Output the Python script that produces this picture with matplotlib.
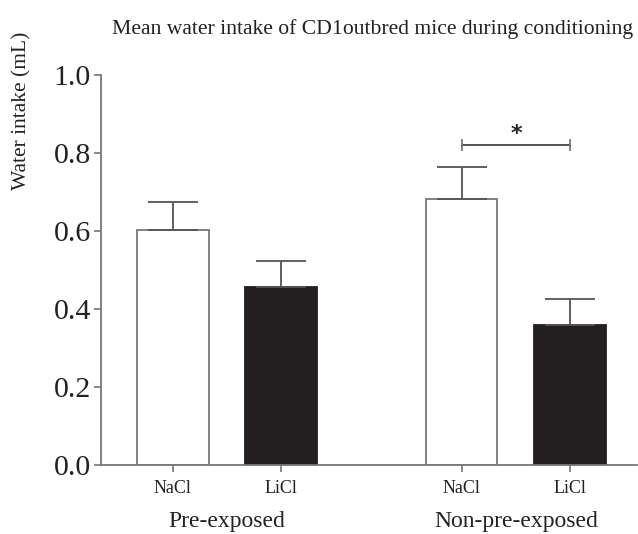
import numpy as np
import matplotlib.pyplot as plt

plt.rcParams['font.family'] = ['Liberation Serif', 'DejaVu Serif']

groups = ['Pre-exposed', 'Non-pre-exposed']
drugs = ['NaCl', 'LiCl', 'NaCl', 'LiCl']
means = [0.603, 0.456, 0.682, 0.359]
sems = [0.071, 0.066, 0.083, 0.068]
fills = ['white', '#231f20', 'white', '#231f20']
edges = ['#777777', '#231f20', '#777777', '#231f20']
sig_y = 0.821

pos = np.array([0, 1, 2.676, 3.685])
grey = '#777777'

fig = plt.figure(figsize=(6.38, 5.34), dpi=100)
ax = fig.add_axes([0.158, 0.129, 0.84, 0.7305])

ax.bar(pos, means, width=0.665, color=fills, edgecolor=edges, linewidth=1.3)
ax.errorbar(pos, means, yerr=[np.zeros(4), sems], fmt='none', ecolor='#555555',
            elinewidth=1.3, capsize=18, capthick=1.3)

# significance bracket
ax.plot([pos[2], pos[3]], [sig_y, sig_y], color='#444444', lw=1.3)
for xx in (pos[2], pos[3]):
    ax.plot([xx, xx], [sig_y - 0.012, sig_y + 0.012], color=grey, lw=1.3)
ax.text((pos[2] + pos[3]) / 2, sig_y + 0.002, '*', ha='center', va='bottom',
        fontsize=16, fontweight='bold', family='DejaVu Sans', color='#222222')

ax.set_xlim(-0.667, 4.3)
ax.set_ylim(0, 1.0)
ax.set_yticks(np.arange(0, 1.01, 0.2))
ax.set_yticklabels([f'{v:.1f}' for v in np.arange(0, 1.01, 0.2)])
ax.set_xticks(pos)
ax.set_xticklabels(drugs)

for s in ['top', 'right']:
    ax.spines[s].set_visible(False)
for s in ['left', 'bottom']:
    ax.spines[s].set_color(grey)
    ax.spines[s].set_linewidth(1.3)
ax.tick_params(axis='y', colors=grey, labelcolor='#222222', labelsize=21.5,
               length=5, width=1.2, pad=2)
ax.tick_params(axis='x', colors=grey, labelcolor='#222222', labelsize=13,
               length=5, width=1.2, pad=6)

for g, xc in zip(groups, [(pos[0] + pos[1]) / 2, (pos[2] + pos[3]) / 2]):
    ax.text(xc, -0.145, g, ha='center', va='center', fontsize=17,
            color='#222222', transform=ax.get_xaxis_transform())

fig.text(0.584, 0.946, 'Mean water intake of CD1outbred mice during conditioning',
         ha='center', va='center', fontsize=15.6, color='#222222')
fig.text(0.034, 0.792, 'Water intake (mL)', rotation=90, ha='center', va='center',
         fontsize=15.5, color='#222222')

fig.savefig('out.png', dpi=100)
